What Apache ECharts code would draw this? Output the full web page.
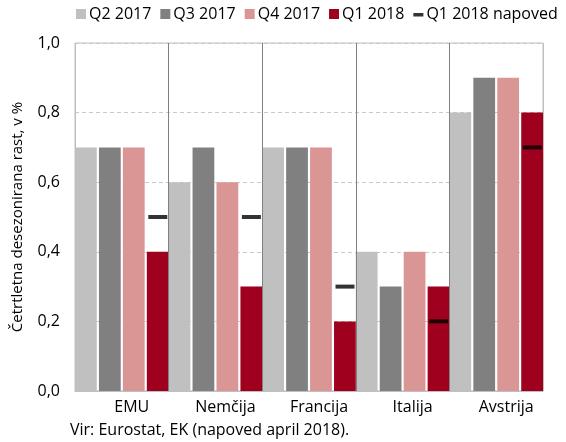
<!DOCTYPE html>
<html lang="sl">
<head>
	<meta charset="UTF-8">
	<title>Rast BDP</title>
	<script src="https://cdn.jsdelivr.net/npm/echarts@6/dist/echarts.min.js"></script>
	<style>
		html, body {margin: 0; padding: 0; background: #fff;}
		#box {width: 566px; height: 442px;}
	</style>
</head>
<body>
<div id="box"></div>
<script>
	// podatki
	let drzave = ['EMU', 'Nemčija', 'Francija', 'Italija', 'Avstrija'];
	let q2_2017 = [0.7, 0.6, 0.7, 0.4, 0.8];
	let q3_2017 = [0.7, 0.7, 0.7, 0.3, 0.9];
	let q4_2017 = [0.7, 0.6, 0.7, 0.4, 0.9];
	let q1_2018 = [0.4, 0.3, 0.2, 0.3, 0.8];
	let q1_2018_napoved = [0.5, 0.5, 0.3, 0.2, 0.7];
	let yTicks = [0, 0.2, 0.4, 0.6, 0.8, 1.0];

	let font = '"Open Sans", "Noto Sans", sans-serif';
	let dash = 'path://M0,0L0,0M0,4L10,4L10,7.5L0,7.5ZM10,10L10,10';

	function bar(name, data, color) {
		return {
			name: name,
			type: 'bar',
			data: data,
			barGap: '10%',
			barCategoryGap: '0%',
			itemStyle: {color: color},
			z: 2
		};
	}

	let options = {
		animation: false,
		textStyle: {fontFamily: font},
		legend: {
			top: 6,
			left: 76,
			width: 490,
			padding: 0,
			itemWidth: 10,
			itemHeight: 10,
			itemGap: 9,
			textStyle: {fontSize: 16, color: '#000', fontFamily: font, padding: [0, 0, 0, -2]},
			data: [
				{name: 'Q2 2017', icon: 'rect'},
				{name: 'Q3 2017', icon: 'rect'},
				{name: 'Q4 2017', icon: 'rect'},
				{name: 'Q1 2018', icon: 'rect'},
				{name: 'Q1 2018 napoved', icon: dash}
			]
		},
		grid: {
			left: 75, right: 23, top: 43, bottom: 51,
			show: true,
			borderColor: '#bfbfbf',
			borderWidth: 1
		},
		xAxis: {
			type: 'category',
			data: drzave,
			axisLine: {lineStyle: {color: '#bfbfbf'}},
			axisTick: {show: false},
			axisLabel: {
				fontSize: 16, color: '#000', margin: 8,
				padding: [0, 0, 0, 20]
			},
			splitLine: {
				show: true,
				lineStyle: {color: ['#bfbfbf', '#808080', '#808080', '#808080', '#808080', '#bfbfbf'], width: 1}
			},
			z: 3
		},
		yAxis: {
			type: 'value',
			min: yTicks[0],
			max: yTicks[yTicks.length - 1],
			interval: 0.2,
			name: 'Četrtletna desezonirana rast, v %',
			nameLocation: 'middle',
			nameGap: 50,
			nameTextStyle: {fontSize: 15, color: '#000'},
			axisLine: {show: false},
			axisTick: {show: false},
			axisLabel: {
				fontSize: 16, color: '#000', margin: 15,
				formatter: v => v.toFixed(1).replace('.', ',')
			},
			splitLine: {lineStyle: {color: '#c8c8c8', type: [4, 3]}}
		},
		graphic: [{
			type: 'text',
			left: 70,
			top: 422,
			style: {
				text: 'Vir: Eurostat, EK (napoved april 2018).',
				fontSize: 16,
				fontFamily: font,
				fill: '#000'
			}
		}],
		series: [
			bar('Q2 2017', q2_2017, '#c0c0c0'),
			bar('Q3 2017', q3_2017, '#808080'),
			bar('Q4 2017', q4_2017, '#da9694'),
			bar('Q1 2018', q1_2018, '#9e001e'),
			{
				name: 'Q1 2018 napoved',
				type: 'scatter',
				data: q1_2018_napoved,
				symbol: 'rect',
				symbolSize: [19, 4],
				symbolOffset: [36, 0],
				itemStyle: {color: '#000'},
				z: 5
			}
		]
	};

	let chart = echarts.init(document.getElementById('box'));
	chart.setOption(options);
</script>
</body>
</html>
